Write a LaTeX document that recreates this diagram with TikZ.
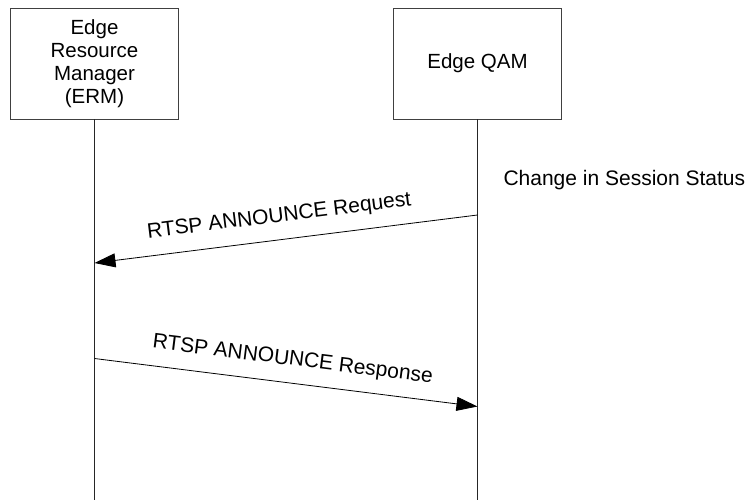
\documentclass[tikz,border=0pt]{standalone}
\usepackage{fontspec}
\setmainfont{Liberation Sans}
\usetikzlibrary{arrows.meta}
\begin{document}
\begin{tikzpicture}[x=1pt, y=1pt,
        actor/.style={draw=black!75, line width=0.8pt, minimum width=168pt, minimum height=111pt,
            align=center, font=\fontsize{20.5}{23}\selectfont},
        life/.style={black!85, line width=0.8pt},
        msg/.style={black, line width=0.8pt, -{Triangle[length=21pt, width=14pt]}},
        msglabel/.style={font=\fontsize{21}{24}\selectfont, sloped, above=11pt, inner sep=2pt}]
        \useasboundingbox (0,0) rectangle (745,-500);

        % Participants
        \node[actor] (erm) at (94.5,-63.5) {Edge\\Resource\\Manager\\(ERM)};
        \node[actor] (qam) at (477.5,-63.5) {Edge QAM};

        % Lifelines
        \coordinate (ermend) at (94.5,-500);
        \coordinate (qamend) at (477.5,-500);
        \draw[life] (erm.south) -- (ermend);
        \draw[life] (qam.south) -- (qamend);

        % Event on the Edge QAM
        \node[anchor=base west, font=\fontsize{21}{24}\selectfont] (status) at (500,-185.7) {Change in Session Status};

        % Messages
        \coordinate (reqfrom) at (477.5,-215);
        \coordinate (reqto) at (94.5,-263);
        \draw[msg] (reqfrom) -- node[msglabel, pos=0.51] {RTSP ANNOUNCE Request} (reqto);

        \coordinate (respfrom) at (94.5,-358.5);
        \coordinate (respto) at (477.5,-406.5);
        \draw[msg] (respfrom) -- node[msglabel, pos=0.51] {RTSP ANNOUNCE Response} (respto);
    \end{tikzpicture}
\end{document}
